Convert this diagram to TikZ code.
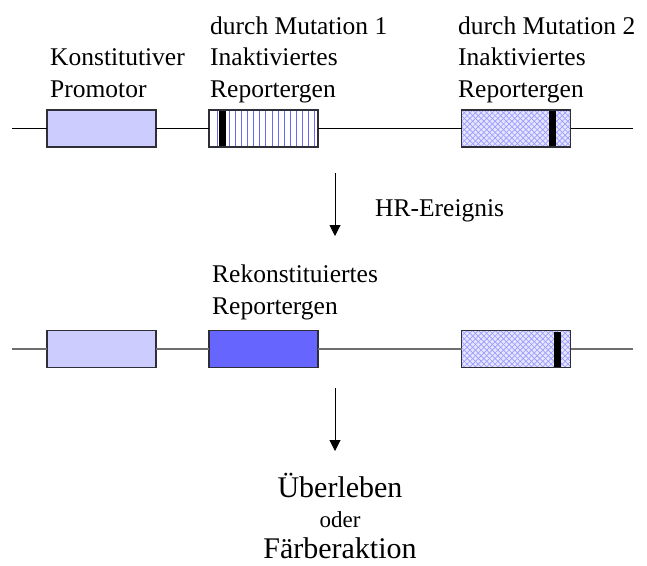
\documentclass[tikz,border=0pt]{standalone}
\usepackage{fontspec}
\setmainfont{Liberation Serif}
\usetikzlibrary{arrows.meta}
\definecolor{promo}{HTML}{CCCCFF}
\definecolor{recon}{HTML}{6666FF}
\definecolor{stripec}{HTML}{6A6AEE}
\definecolor{meshbg}{HTML}{E6E6FF}
\definecolor{meshc}{HTML}{9A9AFF}
\definecolor{edgec}{HTML}{2E2E36}
\definecolor{dnagray}{HTML}{6E6E6E}
\begin{document}
\begin{tikzpicture}[x=1pt,y=-1pt,
  gene/.style={draw=edgec,line width=1.1pt,minimum width=109pt,minimum height=37pt,inner sep=0pt,outer sep=0pt},
  striped/.style={gene,fill=white,path picture={
      \foreach \k in {0,...,16}
        \draw[stripec,line width=0.7pt] ([xshift={8pt+6.1pt*\k}]path picture bounding box.north west) -- ([xshift={8pt+6.1pt*\k}]path picture bounding box.south west);}},
  meshed/.style={gene,fill=meshbg,path picture={
      \foreach \k in {-10,...,30}
        {\draw[meshc,line width=0.65pt] ([xshift={5.6pt*\k}]path picture bounding box.north west) -- ++(45,45);
         \draw[meshc,line width=0.65pt] ([xshift={5.6pt*\k}]path picture bounding box.north west) -- ++(-45,45);}}},
  dnatop/.style={draw=black,line width=1pt},
  dnabot/.style={draw=dnagray,line width=1.6pt},
  lbl/.style={font=\fontsize{25.5}{31.5}\selectfont,inner sep=0pt,align=left,anchor=base west},
  big/.style={font=\fontsize{30}{32}\selectfont,inner sep=0pt,anchor=base},
  small/.style={font=\fontsize{23}{24}\selectfont,inner sep=0pt,anchor=base},
  flow/.style={draw=black,line width=1pt,-{Triangle[length=11pt,width=11pt]}}]
\useasboundingbox (0,0) rectangle (647,565);

% top row
\coordinate (tl) at (12,128.5);
\coordinate (tr) at (633,128.5);
\node[gene,fill=promo] (p1) at (101.5,128.5) {};
\node[striped] (m1) at (263.5,128.5) {};
\node[meshed] (m2) at (516,128.5) {};
\fill[black] (219,111) rectangle (226,146);
\fill[black] (549,111) rectangle (556,146);
\draw[dnatop] (tl) -- (p1.west) (p1.east) -- (m1.west) (m1.east) -- (m2.west) (m2.east) -- (tr);

% bottom row
\coordinate (bl) at (12,349);
\coordinate (br) at (633,349);
\node[gene,fill=promo] (p2) at (101.5,349) {};
\node[gene,fill=recon] (r2) at (263.5,349) {};
\node[meshed] (m3) at (516,349) {};
\fill[black] (554,331.5) rectangle (561,366.5);
\draw[dnabot] (bl) -- (p2.west) (p2.east) -- (r2.west) (r2.east) -- (m3.west) (m3.east) -- (br);

% labels (base anchor = baseline of last line)
\node[lbl] (lp) at (50,97) {Konstitutiver\\Promotor};
\node[lbl] (lm1) at (210,97) {durch Mutation 1\\Inaktiviertes\\Reportergen};
\node[lbl] (lm2) at (458,97) {durch Mutation 2\\Inaktiviertes\\Reportergen};
\node[lbl] (lr) at (212,314) {Rekonstituiertes\\Reportergen};
\node[lbl] (hr) at (375,216) {HR-Ereignis};

% arrows
\coordinate (a1s) at (335,173);
\coordinate (a1e) at (335,236);
\draw[flow] (a1s) -- (a1e);
\coordinate (a2s) at (335,388);
\coordinate (a2e) at (335,451);
\draw[flow] (a2s) -- (a2e);

% outcome
\node[big] (ue) at (340,497) {Überleben};
\node[small] (od) at (340,527) {oder};
\node[big] (fa) at (340,558) {Färberaktion};
\end{tikzpicture}
\end{document}
